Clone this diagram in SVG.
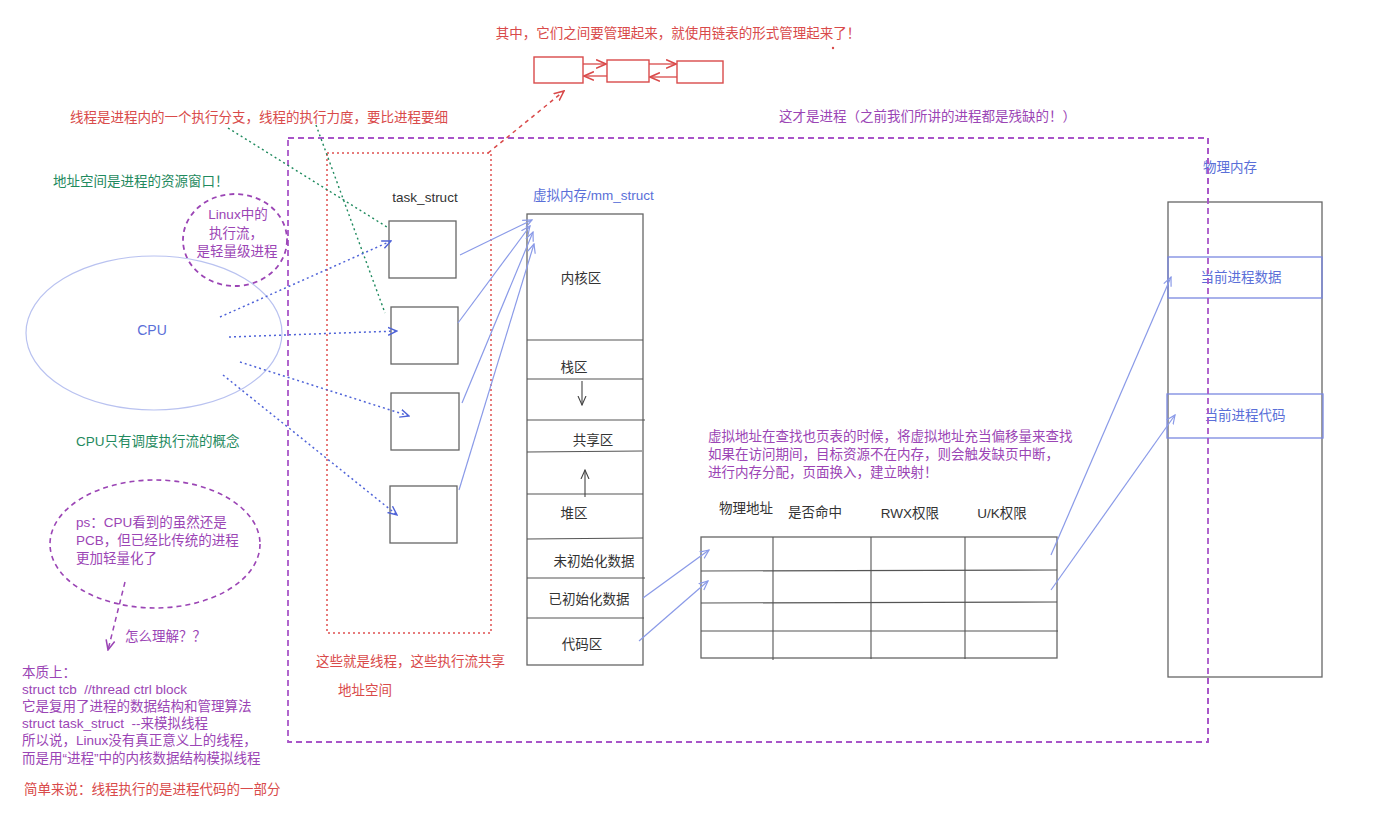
<svg xmlns="http://www.w3.org/2000/svg" width="1375" height="832" viewBox="0 0 1375 832">
<defs>
<style>
text{font-family:"Liberation Sans","Noto Sans CJK SC",sans-serif;font-size:13.5px;dominant-baseline:central;white-space:pre}
.red{fill:#d94a4a}.pur{fill:#9b45b5}.grn{fill:#1f8a5e}.blu{fill:#5a6fd8}.blk{fill:#333}
.box{fill:#fff;stroke:#666;stroke-width:1.3}
.ln{stroke:#555;stroke-width:1.1}
.bl{stroke:#8a9ae8;stroke-width:1.2;fill:none}
</style>
<marker id="ab" viewBox="0 0 10 10" refX="9" refY="5" markerWidth="10" markerHeight="10" markerUnits="userSpaceOnUse" orient="auto"><path d="M0,1 L9,5 L0,9" fill="none" stroke="#8a9ae8" stroke-width="1.2"/></marker>
<marker id="abd" viewBox="0 0 10 10" refX="9" refY="5" markerWidth="10" markerHeight="10" markerUnits="userSpaceOnUse" orient="auto"><path d="M0,1 L9,5 L0,9" fill="none" stroke="#4f63d8" stroke-width="1.4"/></marker>
<marker id="ar" viewBox="0 0 10 10" refX="9" refY="5" markerWidth="11" markerHeight="11" markerUnits="userSpaceOnUse" orient="auto"><path d="M0,1 L9,5 L0,9" fill="none" stroke="#d94a4a" stroke-width="1.4"/></marker>
<marker id="ap" viewBox="0 0 10 10" refX="9" refY="5" markerWidth="11" markerHeight="11" markerUnits="userSpaceOnUse" orient="auto"><path d="M0,1 L9,5 L0,9" fill="none" stroke="#9b45b5" stroke-width="1.4"/></marker>
<marker id="ak" viewBox="0 0 10 10" refX="9" refY="5" markerWidth="10" markerHeight="10" markerUnits="userSpaceOnUse" orient="auto"><path d="M0,1 L9,5 L0,9" fill="none" stroke="#444" stroke-width="1.1"/></marker>
</defs>
<rect width="1375" height="832" fill="#fff"/>

<!-- top note and linked list -->
<g id="list-note">
<text x="678" y="33" text-anchor="middle" class="red">其中，它们之间要管理起来，就使用链表的形式管理起来了！</text>
<circle cx="833" cy="48" r="1.2" fill="#d94a4a"/>
</g>
<g id="list-node-1"><rect x="534" y="57" width="49" height="26" fill="#fff" stroke="#d94a4a" stroke-width="1.4"/></g>
<g id="list-node-2"><rect x="607" y="60" width="42" height="22" fill="#fff" stroke="#d94a4a" stroke-width="1.4"/></g>
<g id="list-node-3"><rect x="677" y="61" width="46" height="22" fill="#fff" stroke="#d94a4a" stroke-width="1.4"/></g>

<!-- process boundary -->
<g id="process">
<rect x="288" y="138" width="920" height="604" fill="none" stroke="#a855c8" stroke-width="1.8" stroke-dasharray="6,4"/>
<text x="779" y="116" class="pur">这才是进程（之前我们所讲的进程都是残缺的！）</text>
</g>
<g id="threads-group">
<rect x="327" y="153" width="164" height="480" fill="none" stroke="#e05050" stroke-width="1.5" stroke-dasharray="2,3"/>
<text x="316" y="661" class="red">这些就是线程，这些执行流共享</text>
<text x="338" y="690" class="red">地址空间</text>
</g>

<!-- notes -->
<g id="note-thread"><text x="70" y="117" class="red">线程是进程内的一个执行分支，线程的执行力度，要比进程要细</text></g>
<g id="note-addr"><text x="53" y="181" class="grn">地址空间是进程的资源窗口！</text></g>
<g id="note-linux">
<ellipse cx="235" cy="240" rx="52" ry="46" fill="none" stroke="#9b45b5" stroke-width="1.8" stroke-dasharray="5,4"/>
<text x="238" y="214" text-anchor="middle" class="pur">Linux中的</text>
<text x="236" y="233" text-anchor="middle" class="pur">执行流，</text>
<text x="237" y="251" text-anchor="middle" class="pur">是轻量级进程</text>
</g>
<g id="cpu">
<ellipse cx="154" cy="333" rx="128" ry="77" fill="none" stroke="#b9c2f0" stroke-width="1.2"/>
<text x="152" y="330" text-anchor="middle" class="blu" style="font-size:14px">CPU</text>
</g>
<g id="note-cpu"><text x="76" y="441" class="grn">CPU只有调度执行流的概念</text></g>

<!-- task structs -->
<g id="task-label"><text x="425" y="197" text-anchor="middle" class="blk">task_struct</text></g>
<g id="task-1"><rect class="box" x="389" y="221" width="67" height="57"/></g>
<g id="task-2"><rect class="box" x="391" y="307" width="67" height="57"/></g>
<g id="task-3"><rect class="box" x="391" y="393" width="68" height="57"/></g>
<g id="task-4"><rect class="box" x="390" y="486" width="67" height="57"/></g>

<!-- mm_struct -->
<g id="mm-struct">
<text x="533" y="195" class="blu">虚拟内存/mm_struct</text>
<rect class="box" x="527" y="214" width="116" height="451"/>
<line class="ln" x1="527" y1="340" x2="643" y2="340"/>
<line class="ln" x1="527" y1="379" x2="643" y2="379"/>
<line class="ln" x1="527" y1="420" x2="645" y2="420"/>
<line class="ln" x1="527" y1="452" x2="642" y2="451"/>
<line class="ln" x1="527" y1="494" x2="643" y2="494"/>
<line class="ln" x1="527" y1="539" x2="643" y2="538"/>
<line class="ln" x1="527" y1="578" x2="645" y2="578"/>
<line class="ln" x1="527" y1="618" x2="644" y2="618"/>
<text x="581" y="278" text-anchor="middle" class="blk">内核区</text>
<text x="574" y="367" text-anchor="middle" class="blk">栈区</text>
<line x1="582" y1="381" x2="582" y2="405" stroke="#444" stroke-width="1.1" marker-end="url(#ak)"/>
<text x="593" y="440" text-anchor="middle" class="blk">共享区</text>
<line x1="585" y1="497" x2="585" y2="470" stroke="#444" stroke-width="1.1" marker-end="url(#ak)"/>
<text x="574" y="513" text-anchor="middle" class="blk">堆区</text>
<text x="594" y="561" text-anchor="middle" class="blk">未初始化数据</text>
<text x="589" y="599" text-anchor="middle" class="blk">已初始化数据</text>
<text x="582" y="644" text-anchor="middle" class="blk">代码区</text>
</g>

<!-- page table -->
<g id="page-table">
<text x="708" y="436" class="pur">虚拟地址在查找也页表的时候，将虚拟地址充当偏移量来查找</text>
<text x="708" y="454" class="pur">如果在访问期间，目标资源不在内存，则会触发缺页中断，</text>
<text x="708" y="472" class="pur">进行内存分配，页面换入，建立映射！</text>
<text x="746" y="508" text-anchor="middle" class="blk">物理地址</text>
<text x="815" y="512" text-anchor="middle" class="blk">是否命中</text>
<text x="910" y="513" text-anchor="middle" class="blk">RWX权限</text>
<text x="1002" y="513" text-anchor="middle" class="blk">U/K权限</text>
<rect class="box" x="701" y="537" width="356" height="121"/>
<line class="ln" x1="701" y1="571" x2="1057" y2="570"/>
<line class="ln" x1="701" y1="603" x2="1057" y2="602"/>
<line class="ln" x1="701" y1="631" x2="1058" y2="631"/>
<line class="ln" x1="773" y1="537" x2="773" y2="660"/>
<line class="ln" x1="871" y1="537" x2="871" y2="659"/>
<line class="ln" x1="965" y1="537" x2="965" y2="659"/>
</g>

<!-- physical memory -->
<g id="phys-mem">
<text x="1230" y="167" text-anchor="middle" class="blu">物理内存</text>
<rect class="box" x="1168" y="202" width="154" height="475"/>
<rect x="1168" y="257" width="154" height="41" fill="none" stroke="#7a88e0" stroke-width="1.3"/>
<text x="1241" y="277" text-anchor="middle" class="blu">当前进程数据</text>
<rect x="1167" y="394" width="156" height="44" fill="none" stroke="#7a88e0" stroke-width="1.3"/>
<text x="1245" y="415" text-anchor="middle" class="blu">当前进程代码</text>
</g>
<!-- redraw process right edge over phys mem -->
<line x1="1208" y1="138" x2="1208" y2="742" stroke="#a855c8" stroke-width="1.8" stroke-dasharray="6,4"/>

<!-- bottom-left notes -->
<g id="note-ps">
<ellipse cx="155" cy="544" rx="105" ry="64" fill="none" stroke="#9b45b5" stroke-width="1.6" stroke-dasharray="5,4"/>
<text x="76" y="522" class="pur">ps：CPU看到的虽然还是</text>
<text x="76" y="540" class="pur">PCB，但已经比传统的进程</text>
<text x="76" y="558" class="pur">更加轻量化了</text>
</g>
<g id="note-how"><text x="125" y="636" class="pur">怎么理解？？</text></g>
<g id="note-essence">
<text x="22" y="672" class="pur">本质上：</text>
<text x="22" y="689" class="pur">struct tcb  //thread ctrl block</text>
<text x="22" y="706" class="pur">它是复用了进程的数据结构和管理算法</text>
<text x="22" y="723" class="pur">struct task_struct  --来模拟线程</text>
<text x="22" y="740" class="pur">所以说，Linux没有真正意义上的线程，</text>
<text x="22" y="758" class="pur">而是用“进程”中的内核数据结构模拟线程</text>
</g>
<g id="note-simple"><text x="24" y="789" class="red">简单来说：线程执行的是进程代码的一部分</text></g>

<!-- connectors -->
<g id="connectors">
<line x1="583" y1="64" x2="606" y2="64" stroke="#d94a4a" stroke-width="1.3" marker-end="url(#ar)"/>
<line x1="607" y1="76" x2="584" y2="76" stroke="#d94a4a" stroke-width="1.3" marker-end="url(#ar)"/>
<line x1="649" y1="64" x2="676" y2="64" stroke="#d94a4a" stroke-width="1.3" marker-end="url(#ar)"/>
<line x1="677" y1="77" x2="650" y2="77" stroke="#d94a4a" stroke-width="1.3" marker-end="url(#ar)"/>
<line x1="488" y1="153" x2="564" y2="91" stroke="#d94a4a" stroke-width="1.5" stroke-dasharray="4,4" marker-end="url(#ar)"/>
<line x1="228" y1="128" x2="387" y2="227" stroke="#1f8a5e" stroke-width="1.4" stroke-dasharray="2,3"/>
<line x1="316" y1="125" x2="385" y2="313" stroke="#1f8a5e" stroke-width="1.4" stroke-dasharray="2,3"/>
<line x1="220" y1="317" x2="391" y2="241" stroke="#4f63d8" stroke-width="1.5" stroke-dasharray="2,3" marker-end="url(#abd)"/>
<line x1="229" y1="337" x2="397" y2="331" stroke="#4f63d8" stroke-width="1.5" stroke-dasharray="2,3" marker-end="url(#abd)"/>
<line x1="240" y1="362" x2="409" y2="416" stroke="#4f63d8" stroke-width="1.5" stroke-dasharray="2,3" marker-end="url(#abd)"/>
<line x1="223" y1="375" x2="397" y2="515" stroke="#4f63d8" stroke-width="1.5" stroke-dasharray="2,3" marker-end="url(#abd)"/>
<line class="bl" x1="460" y1="255" x2="532" y2="220" marker-end="url(#ab)"/>
<line class="bl" x1="458" y1="323" x2="530" y2="226" marker-end="url(#ab)"/>
<line class="bl" x1="462" y1="403" x2="533" y2="232" marker-end="url(#ab)"/>
<line class="bl" x1="459" y1="490" x2="534" y2="244" marker-end="url(#ab)"/>
<line class="bl" x1="643" y1="598" x2="709" y2="550" marker-end="url(#ab)"/>
<line class="bl" x1="639" y1="641" x2="708" y2="581" marker-end="url(#ab)"/>
<line class="bl" x1="1051" y1="555" x2="1171" y2="277" marker-end="url(#ab)"/>
<line class="bl" x1="1051" y1="590" x2="1175" y2="415" marker-end="url(#ab)"/>
<line x1="125" y1="582" x2="108" y2="650" stroke="#9b45b5" stroke-width="1.5" stroke-dasharray="5,4" marker-end="url(#ap)"/>
</g>
</svg>
